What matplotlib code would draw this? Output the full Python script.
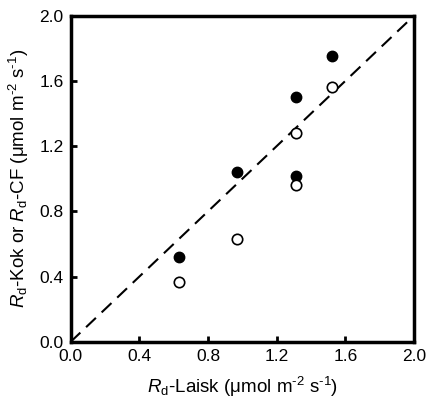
import numpy as np
import matplotlib
matplotlib.use('Agg')
import matplotlib.pyplot as plt

plt.rcParams['font.family'] = 'Liberation Sans'
plt.rcParams['mathtext.fontset'] = 'custom'
plt.rcParams['mathtext.rm'] = 'Liberation Sans'
plt.rcParams['mathtext.it'] = 'Liberation Sans:italic'

# Rd from Laisk method vs Kok (filled) and chlorophyll fluorescence (open)
laisk = [0.63, 0.97, 1.31, 1.31, 1.52]
kok = [0.52, 1.04, 1.50, 1.02, 1.75]
cf = [0.37, 0.63, 1.28, 0.96, 1.56]
ticks = [0.0, 0.4, 0.8, 1.2, 1.6, 2.0]

unit = r'($\mathrm{\mu}$mol m$^{\text{-2}}$ s$^{\text{-1}}$)'

fig = plt.figure(figsize=(4.30, 4.11), dpi=100)
ax = fig.add_axes([0.164, 0.168, 0.799, 0.794])

# 1:1 line
ax.plot([0, 2], [0, 2], color='black', lw=1.5, dashes=(6.5, 3.8), zorder=1)
ax.plot(laisk, kok, 'o', ms=7.5, mfc='black', mec='black', zorder=3)
ax.plot(laisk, cf, 'o', ms=7.5, mfc='white', mec='black', mew=1.2, zorder=3)

ax.set_xlim(0, 2)
ax.set_ylim(0, 2)
ax.set_xticks(ticks)
ax.set_yticks(ticks)
ax.set_xticklabels(['%.1f' % t for t in ticks])
ax.set_yticklabels(['%.1f' % t for t in ticks])
ax.tick_params(direction='in', length=4, width=2, labelsize=12.5, pad=5)
for s in ax.spines.values():
    s.set_linewidth(2.5)

ax.set_xlabel(r'$R_{\mathrm{d}}$-Laisk ' + unit, fontsize=13.5, labelpad=8)
ax.set_ylabel(r'$R_{\mathrm{d}}$-Kok or $R_{\mathrm{d}}$-CF ' + unit, fontsize=13.5, labelpad=6)

fig.savefig('out.png', dpi=100)
